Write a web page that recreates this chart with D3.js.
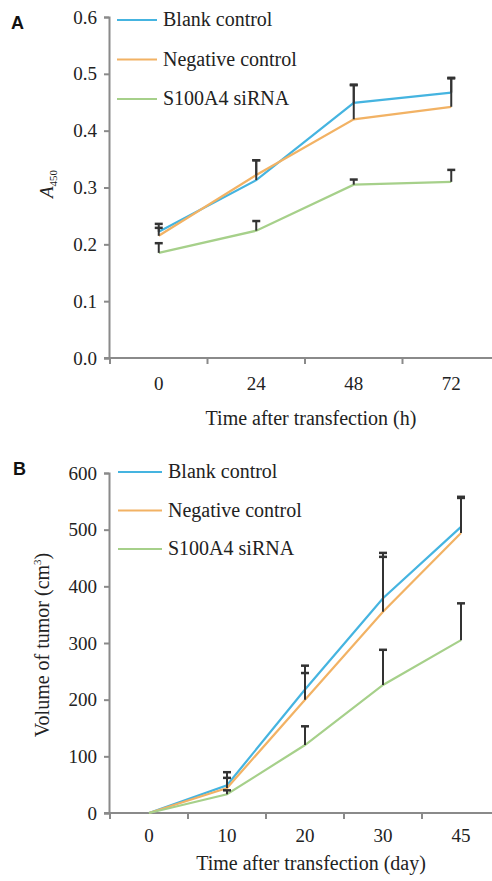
<!doctype html>
<html>
<head>
<meta charset="utf-8">
<script src="https://cdn.jsdelivr.net/npm/d3@7"></script>
<style>
html,body{ margin:0; background:#fff; overflow:hidden; }
text{ font-family:"Liberation Serif","Times New Roman",serif; fill:#222; }
text.panel{ font-family:"Liberation Sans",Arial,sans-serif; font-weight:bold; fill:#111; }
</style>
</head>
<body>
<script>
// legend / series names
var seriesNames = ["Blank control", "Negative control", "S100A4 siRNA"];
var seriesColors = ["#45b4e0", "#f2b264", "#a6d08a"];

// panel A: CCK-8 absorbance
var hoursA = ["0", "24", "48", "72"];
var blankA = [0.222, 0.313, 0.449, 0.467];
var blankErrA = [0.014, 0.035, 0.032, 0.026];
var negA = [0.215, 0.322, 0.420, 0.442];
var negErrA = [0.014, 0.026, 0.060, 0.050];
var sirnaA = [0.185, 0.224, 0.305, 0.310];
var sirnaErrA = [0.017, 0.017, 0.009, 0.021];
var ticksA = [0, 0.1, 0.2, 0.3, 0.4, 0.5, 0.6];

// panel B: tumour volume
var daysB = ["0", "10", "20", "30", "45"];
var blankB = [0, 49, 218, 379, 505];
var blankErrB = [0, 23, 42, 80, 53];
var negB = [0, 44, 200, 355, 494];
var negErrB = [0, 18, 47, 97, 62];
var sirnaB = [0, 33, 120, 226, 305];
var sirnaErrB = [0, 7, 33, 62, 65];
var ticksB = [0, 100, 200, 300, 400, 500, 600];

var W = 492, H = 881;
var svg = d3.select("body").append("svg")
    .attr("width", W)
    .attr("height", H);

function panel(o){
    var g = svg.append("g");
    var x = d3.scaleBand().domain(o.cats).range([110, 500]);
    var y = d3.scaleLinear().domain([o.ticks[0], o.ticks[o.ticks.length-1]]).range([o.bottom, o.top]);
    var axisCol = "#8a8a8a";

    // y axis
    var ya = g.append("g").attr("transform", "translate(109,0)")
        .call(d3.axisLeft(y).tickValues(o.ticks).tickFormat(o.fmt).tickSize(5).tickPadding(7));
    ya.attr("font-family", null);
    ya.select(".domain").attr("stroke", axisCol).attr("stroke-width", 2);
    ya.selectAll(".tick line").attr("stroke", axisCol).attr("stroke-width", 2);
    ya.selectAll(".tick text").style("font-size", "19px").attr("fill", "#222");

    // x axis, ticks sit on the band edges
    var xa = g.append("g").attr("transform", "translate(0," + o.bottom + ")")
        .call(d3.axisBottom(x).tickSize(0).tickPadding(o.tickPad));
    xa.attr("font-family", null);
    xa.select(".domain").remove();
    xa.selectAll(".tick text").style("font-size", "19px").attr("fill", "#222");
    xa.append("line").attr("x1", 104).attr("x2", W).attr("y1", 0).attr("y2", 0)
        .attr("stroke", axisCol).attr("stroke-width", 2);
    xa.selectAll(".edge").data(o.cats.concat(["end"])).enter().append("line")
        .attr("class", "edge")
        .attr("x1", function(d){ return d == "end" ? x.range()[1] : x(d); })
        .attr("x2", function(d){ return d == "end" ? x.range()[1] : x(d); })
        .attr("y1", 0).attr("y2", 6)
        .attr("stroke", axisCol).attr("stroke-width", 2);

    // axis titles
    g.append("text").attr("x", 311).attr("y", o.bottom + o.titlePad)
        .attr("text-anchor", "middle").style("font-size", "20px").text(o.xTitle);
    o.yTitle(g);

    g.append("text").attr("class", "panel").attr("x", o.labelX).attr("y", o.labelY)
        .style("font-size", "18px").text(o.label);

    // lines + error bars
    var line = d3.line()
        .x(function(d, i){ return x(o.cats[i]) + x.bandwidth()/2; })
        .y(function(d){ return y(d); });

    o.series.forEach(function(s, k){
        g.append("path").datum(s.v)
            .attr("d", line)
            .attr("fill", "none")
            .attr("stroke", seriesColors[k])
            .attr("stroke-width", 2.2);
    });
    o.series.forEach(function(s){
        var eb = g.append("g").selectAll("g").data(s.v.map(function(v, i){ return {v: v, e: s.e[i], c: o.cats[i]}; }))
            .enter().filter(function(d){ return d.e > 0; }).append("g");
        eb.append("line")
            .attr("x1", function(d){ return x(d.c) + x.bandwidth()/2; })
            .attr("x2", function(d){ return x(d.c) + x.bandwidth()/2; })
            .attr("y1", function(d){ return y(d.v); })
            .attr("y2", function(d){ return y(d.v + d.e); })
            .attr("stroke", "#333").attr("stroke-width", 2);
        eb.append("line")
            .attr("x1", function(d){ return x(d.c) + x.bandwidth()/2 - 4; })
            .attr("x2", function(d){ return x(d.c) + x.bandwidth()/2 + 4; })
            .attr("y1", function(d){ return y(d.v + d.e); })
            .attr("y2", function(d){ return y(d.v + d.e); })
            .attr("stroke", "#333").attr("stroke-width", 2.5);
    });

    // legend
    var lg = g.append("g").selectAll("g").data(seriesNames).enter().append("g")
        .attr("transform", function(d, i){ return "translate(" + o.legX + "," + (o.legY + i*o.legGap) + ")"; });
    lg.append("line").attr("x1", 0).attr("x2", o.legLen).attr("y1", 0).attr("y2", 0)
        .attr("stroke", function(d, i){ return seriesColors[i]; }).attr("stroke-width", 2.2);
    lg.append("text").attr("x", o.legLen + 6).attr("y", 6)
        .style("font-size", "20px").text(function(d){ return d; });
}

panel({
    cats: hoursA, ticks: ticksA, fmt: d3.format(".1f"),
    top: 17, bottom: 358, tickPad: 19, titlePad: 67,
    xTitle: "Time after transfection (h)",
    yTitle: function(g){
        var t = g.append("text").attr("transform", "translate(53,184) rotate(-90)")
            .attr("text-anchor", "middle").style("font-size", "19px");
        t.append("tspan").style("font-style", "italic").text("A");
        t.append("tspan").attr("dy", 4).style("font-size", "11px").text("450");
    },
    label: "A", labelX: 11, labelY: 29,
    legX: 117, legY: 20, legGap: 39.5, legLen: 40,
    series: [{v: blankA, e: blankErrA}, {v: negA, e: negErrA}, {v: sirnaA, e: sirnaErrA}]
});

panel({
    cats: daysB, ticks: ticksB, fmt: d3.format("d"),
    top: 473, bottom: 813, tickPad: 16, titlePad: 57,
    xTitle: "Time after transfection (day)",
    yTitle: function(g){
        var t = g.append("text").attr("transform", "translate(49,645) rotate(-90)")
            .attr("text-anchor", "middle").style("font-size", "20px");
        t.append("tspan").text("Volume of tumor (cm");
        t.append("tspan").attr("dy", -8).style("font-size", "11px").text("3");
        t.append("tspan").attr("dy", 8).text(")");
    },
    label: "B", labelX: 13, labelY: 475,
    legX: 118, legY: 472, legGap: 38.5, legLen: 44,
    series: [{v: blankB, e: blankErrB}, {v: negB, e: negErrB}, {v: sirnaB, e: sirnaErrB}]
});
</script>
</body>
</html>
